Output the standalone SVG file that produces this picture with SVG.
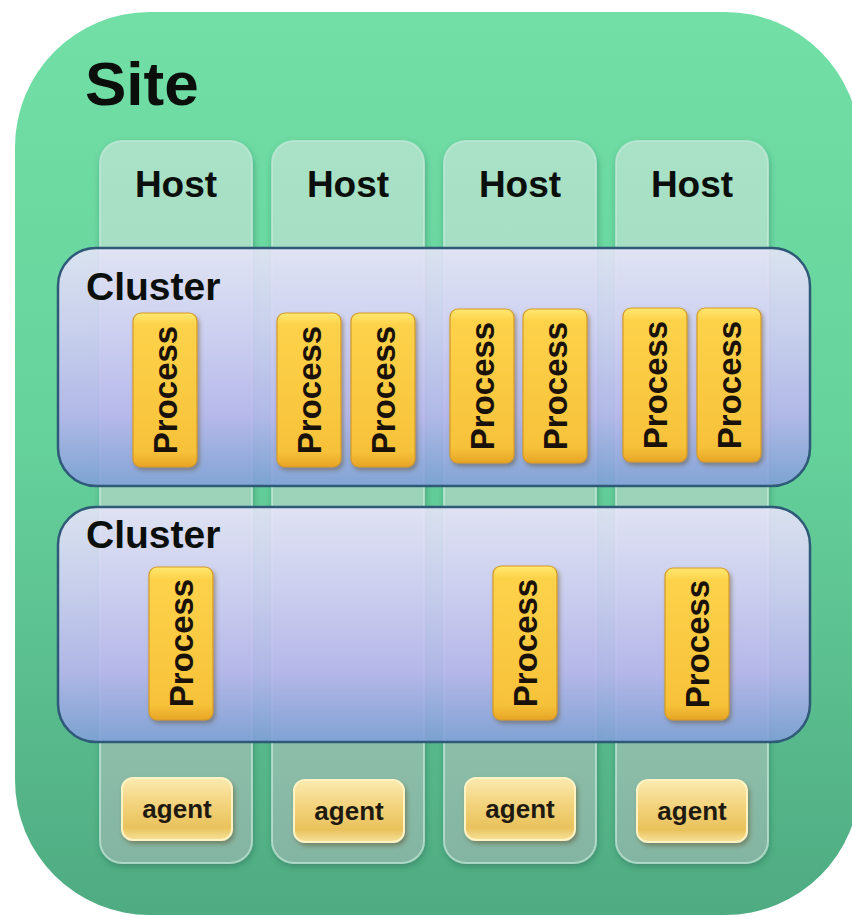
<svg xmlns="http://www.w3.org/2000/svg" width="852" height="917" viewBox="0 0 852 917">
  <defs>
    <linearGradient id="siteFill" x1="0" y1="0" x2="0" y2="1">
      <stop offset="0" stop-color="#72dfa7"/>
      <stop offset="0.45" stop-color="#66d39c"/>
      <stop offset="1" stop-color="#4fab82"/>
    </linearGradient>
    <linearGradient id="hostFill" x1="0" y1="0" x2="0" y2="1">
      <stop offset="0" stop-color="#a9e2c6"/>
      <stop offset="0.4" stop-color="#a0d9bd"/>
      <stop offset="1" stop-color="#84b4a2"/>
    </linearGradient>
    <linearGradient id="clusterFill" x1="0" y1="0" x2="0" y2="1">
      <stop offset="0" stop-color="#e6e4f8"/>
      <stop offset="0.35" stop-color="#d2cff5"/>
      <stop offset="0.7" stop-color="#b9b6ef"/>
      <stop offset="1" stop-color="#7f9fd8"/>
    </linearGradient>
    <linearGradient id="processFill" x1="0" y1="0" x2="0" y2="1">
      <stop offset="0" stop-color="#ffe870"/>
      <stop offset="0.08" stop-color="#fdd24a"/>
      <stop offset="0.9" stop-color="#f7c23a"/>
      <stop offset="1" stop-color="#e6a526"/>
    </linearGradient>
    <linearGradient id="agentFill" x1="0" y1="0" x2="0" y2="1">
      <stop offset="0" stop-color="#fbeab0"/>
      <stop offset="0.45" stop-color="#f2d27a"/>
      <stop offset="0.8" stop-color="#e9c25c"/>
      <stop offset="1" stop-color="#f6e29a"/>
    </linearGradient>
    <filter id="dropShadow" x="-20%" y="-10%" width="150%" height="130%">
      <feDropShadow dx="2" dy="3" stdDeviation="2" flood-color="#5a4a20" flood-opacity="0.45"/>
    </filter>
    <filter id="softShadow" x="-10%" y="-10%" width="130%" height="130%">
      <feDropShadow dx="1" dy="3" stdDeviation="3" flood-color="#1f4a3a" flood-opacity="0.35"/>
    </filter>
  </defs>
  <style>
    .site { fill: url(#siteFill); }
    .host { fill: url(#hostFill); stroke: #c4eadb; stroke-opacity: 0.7; stroke-width: 2; filter: url(#softShadow); }
    .cluster { fill: url(#clusterFill); fill-opacity: 0.9; stroke: #2e5a78; stroke-width: 2.5; }
    .process { fill: url(#processFill); stroke: #d59a2a; stroke-width: 1.2; filter: url(#dropShadow); }
    .agent { fill: url(#agentFill); stroke: #fff3c4; stroke-width: 2; filter: url(#dropShadow); }
    .title { font-family: "Liberation Sans", Arial, sans-serif; font-weight: bold; fill: #0a0f0c; }
    .ptext { font-family: "Liberation Sans", Arial, sans-serif; font-weight: bold; font-size: 33px; fill: #1a1208; text-anchor: middle; }
    .atext { font-family: "Liberation Sans", Arial, sans-serif; font-weight: bold; font-size: 26px; fill: #1e1a10; text-anchor: middle; }
  </style>

  <!-- outer site container -->
  <g id="site">
    <rect class="site" x="15" y="12" width="845" height="903" rx="135"/>
    <text class="title" x="85" y="105" font-size="62">Site</text>
  </g>

  <!-- host columns -->
  <g id="host-1">
    <rect class="host" x="100" y="141" width="152" height="722" rx="22"/>
    <text class="title" x="176" y="197" font-size="37" text-anchor="middle">Host</text>
  </g>
  <g id="host-2">
    <rect class="host" x="272" y="141" width="152" height="722" rx="22"/>
    <text class="title" x="348" y="197" font-size="37" text-anchor="middle">Host</text>
  </g>
  <g id="host-3">
    <rect class="host" x="444" y="141" width="152" height="722" rx="22"/>
    <text class="title" x="520" y="197" font-size="37" text-anchor="middle">Host</text>
  </g>
  <g id="host-4">
    <rect class="host" x="616" y="141" width="152" height="722" rx="22"/>
    <text class="title" x="692" y="197" font-size="37" text-anchor="middle">Host</text>
  </g>

  <!-- clusters spanning the hosts -->
  <g id="cluster-1">
    <rect class="cluster" x="58" y="248" width="752" height="238" rx="38"/>
    <text class="title" x="86" y="300" font-size="39">Cluster</text>
  </g>
  <g id="cluster-2">
    <rect class="cluster" x="58" y="507" width="752" height="235" rx="38"/>
    <text class="title" x="86" y="548" font-size="39">Cluster</text>
  </g>

  <!-- processes in the first cluster -->
  <g id="process-1-1">
    <rect class="process" x="133" y="313" width="64" height="154" rx="8"/>
    <text class="ptext" x="165" y="402" transform="rotate(-90 165 390)">Process</text>
  </g>
  <g id="process-1-2">
    <rect class="process" x="277" y="313" width="64" height="154" rx="8"/>
    <text class="ptext" x="309" y="402" transform="rotate(-90 309 390)">Process</text>
  </g>
  <g id="process-1-3">
    <rect class="process" x="351" y="313" width="64" height="154" rx="8"/>
    <text class="ptext" x="383" y="402" transform="rotate(-90 383 390)">Process</text>
  </g>
  <g id="process-1-4">
    <rect class="process" x="450" y="309" width="64" height="154" rx="8"/>
    <text class="ptext" x="482" y="398" transform="rotate(-90 482 386)">Process</text>
  </g>
  <g id="process-1-5">
    <rect class="process" x="523" y="309" width="64" height="154" rx="8"/>
    <text class="ptext" x="555" y="398" transform="rotate(-90 555 386)">Process</text>
  </g>
  <g id="process-1-6">
    <rect class="process" x="623" y="308" width="64" height="154" rx="8"/>
    <text class="ptext" x="655" y="397" transform="rotate(-90 655 385)">Process</text>
  </g>
  <g id="process-1-7">
    <rect class="process" x="697" y="308" width="64" height="154" rx="8"/>
    <text class="ptext" x="729" y="397" transform="rotate(-90 729 385)">Process</text>
  </g>

  <!-- processes in the second cluster -->
  <g id="process-2-1">
    <rect class="process" x="149" y="567" width="64" height="153" rx="8"/>
    <text class="ptext" x="181" y="655" transform="rotate(-90 181 643)">Process</text>
  </g>
  <g id="process-2-2">
    <rect class="process" x="493" y="566" width="64" height="154" rx="8"/>
    <text class="ptext" x="525" y="655" transform="rotate(-90 525 643)">Process</text>
  </g>
  <g id="process-2-3">
    <rect class="process" x="665" y="568" width="64" height="152" rx="8"/>
    <text class="ptext" x="697" y="656" transform="rotate(-90 697 644)">Process</text>
  </g>

  <!-- one agent per host -->
  <g id="agent-1">
    <rect class="agent" x="122" y="778" width="110" height="62" rx="11"/>
    <text class="atext" x="177" y="818">agent</text>
  </g>
  <g id="agent-2">
    <rect class="agent" x="294" y="780" width="110" height="62" rx="11"/>
    <text class="atext" x="349" y="820">agent</text>
  </g>
  <g id="agent-3">
    <rect class="agent" x="465" y="778" width="110" height="62" rx="11"/>
    <text class="atext" x="520" y="818">agent</text>
  </g>
  <g id="agent-4">
    <rect class="agent" x="637" y="780" width="110" height="62" rx="11"/>
    <text class="atext" x="692" y="820">agent</text>
  </g>

  <!-- no links between nodes in this layout -->
  <g id="connectors"/>
</svg>
